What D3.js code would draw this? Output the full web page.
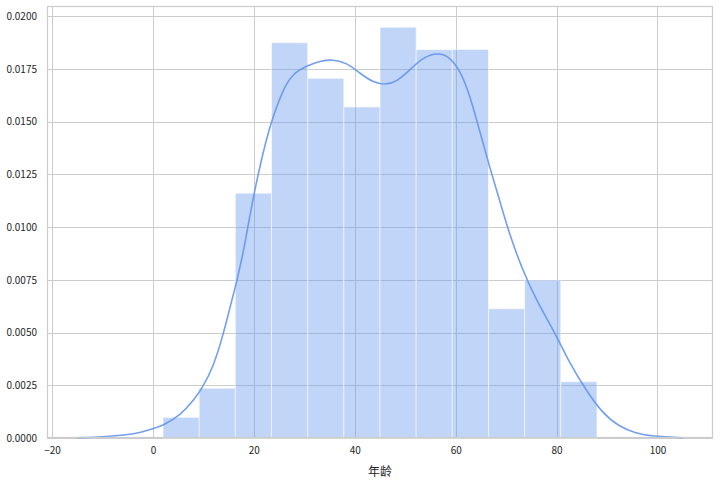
<!DOCTYPE html>
<html>
<head>
<meta charset="UTF-8">
<title>年龄分布</title>
<script src="https://cdnjs.cloudflare.com/ajax/libs/d3/7.8.5/d3.min.js"></script>
<style>
  body { margin: 0; background: #fff; }
  text { font-family: "Noto Sans CJK SC", "DejaVu Sans", sans-serif; fill: #262626; }
</style>
</head>
<body>
<script>
    // histogram bin edges and densities
    var binEdges = [2, 9.17, 16.33, 23.5, 30.67, 37.83, 45, 52.17, 59.33, 66.5, 73.67, 80.83, 88];
    var binDensity = [0.00098, 0.00236, 0.01161, 0.01875, 0.01706, 0.01570,
                      0.01948, 0.01842, 0.01843, 0.00613, 0.00749, 0.00267];

    // kde curve
    var kdeX = [-15, -10, -5, -2.4, 0, 2.2, 5.5, 8.1, 9.75, 12, 14, 15.3, 16.7, 18, 19.3, 20.6,
                22.7, 23.9, 25.9, 27.8, 30.5, 33.1, 35.7, 38.4, 41, 43.6, 46, 48.3, 50.9, 53.5,
                56.5, 58.8, 60.8, 62.7, 64.7, 66.7, 68.7, 70.6, 73, 75.9, 79.9, 82.5, 85.8,
                89.1, 92.4, 95.7, 98.9, 105];
    var kdeY = [0.00001, 0.00005, 0.00015, 0.00027, 0.00043, 0.00062, 0.00109, 0.0018, 0.00236,
                0.00338, 0.00497, 0.00623, 0.0075, 0.00892, 0.01066, 0.01228,
                0.0144, 0.0153, 0.0166, 0.0173, 0.01765, 0.01788, 0.01796, 0.0178, 0.0173,
                0.01687, 0.01674, 0.0169, 0.01745, 0.01806,
                0.01828, 0.01808, 0.01745, 0.01635, 0.01461, 0.01287, 0.01129, 0.00971, 0.00812,
                0.00655, 0.0049, 0.00358, 0.00228,
                0.00117, 0.00054, 0.00022, 0.00008, 0.00001];

    var xTicks = [-20, 0, 20, 40, 60, 80, 100];
    var yTicks = [0, 0.0025, 0.005, 0.0075, 0.01, 0.0125, 0.015, 0.0175, 0.02];
    var xLabel = "年龄";

    var width = 720;
    var height = 482;
    var margin = {left: 47, right: 7, top: 6, bottom: 44};

    var xScale = d3.scaleLinear()
            .domain([-21, 111])
            .range([margin.left, width - margin.right]);

    var yScale = d3.scaleLinear()
            .domain([0, 0.02049])
            .range([height - margin.bottom, margin.top]);

    var svg = d3.select("body").append("svg")
            .attr("width", width)
            .attr("height", height);

    var gridColor = "#cccccc";
    var blue = "#6495ed";

    // grid
    svg.append("g").selectAll("line.vx")
            .data(xTicks)
            .enter().append("line")
            .attr("x1", function (d) { return Math.round(xScale(d)) + 0.5; })
            .attr("x2", function (d) { return Math.round(xScale(d)) + 0.5; })
            .attr("y1", margin.top)
            .attr("y2", height - margin.bottom)
            .attr("stroke", gridColor)
            .attr("stroke-width", 1);

    svg.append("g").selectAll("line.hy")
            .data(yTicks)
            .enter().append("line")
            .attr("y1", function (d) { return Math.round(yScale(d)) + 0.5; })
            .attr("y2", function (d) { return Math.round(yScale(d)) + 0.5; })
            .attr("x1", margin.left)
            .attr("x2", width - margin.right)
            .attr("stroke", gridColor)
            .attr("stroke-width", 1);

    // histogram bars
    svg.append("g").selectAll("rect")
            .data(binDensity)
            .enter().append("rect")
            .attr("x", function (d, i) { return xScale(binEdges[i]); })
            .attr("width", function (d, i) { return xScale(binEdges[i + 1]) - xScale(binEdges[i]); })
            .attr("y", function (d) { return yScale(d); })
            .attr("height", function (d) { return yScale(0) - yScale(d); })
            .attr("fill", blue)
            .attr("fill-opacity", 0.4)
            .attr("stroke", "#ffffff")
            .attr("stroke-opacity", 0.55)
            .attr("stroke-width", 1);

    // kde line
    var line = d3.line()
            .x(function (d, i) { return xScale(kdeX[i]); })
            .y(function (d) { return yScale(d); })
            .curve(d3.curveBasis);

    svg.append("path")
            .datum(kdeY)
            .attr("d", line)
            .attr("fill", "none")
            .attr("stroke", blue)
            .attr("stroke-opacity", 0.9)
            .attr("stroke-width", 1.6);

    // frame
    svg.append("rect")
            .attr("x", margin.left + 0.5)
            .attr("y", margin.top + 0.5)
            .attr("width", width - margin.left - margin.right - 1)
            .attr("height", height - margin.top - margin.bottom - 1)
            .attr("fill", "none")
            .attr("stroke", gridColor)
            .attr("stroke-width", 1.2);

    // axes (labels only, seaborn whitegrid has no tick marks)
    var xAxis = d3.axisBottom(xScale).tickValues(xTicks).tickSize(0).tickPadding(9);
    var gx = svg.append("g")
            .attr("transform", "translate(0," + (height - margin.bottom) + ")")
            .call(xAxis);
    gx.select(".domain").remove();
    gx.selectAll("text").style("font-size", "10px").attr("fill", "#262626");

    var yAxis = d3.axisLeft(yScale).tickValues(yTicks).tickSize(0).tickPadding(10)
            .tickFormat(d3.format(".4f"));
    var gy = svg.append("g")
            .attr("transform", "translate(" + margin.left + ",0)")
            .call(yAxis);
    gy.select(".domain").remove();
    gy.selectAll("text").style("font-size", "10px").attr("fill", "#262626");

    svg.append("text")
            .attr("x", (margin.left + width - margin.right) / 2)
            .attr("y", 476)
            .attr("text-anchor", "middle")
            .style("font-size", "12px")
            .text(xLabel);
</script>
</body>
</html>
